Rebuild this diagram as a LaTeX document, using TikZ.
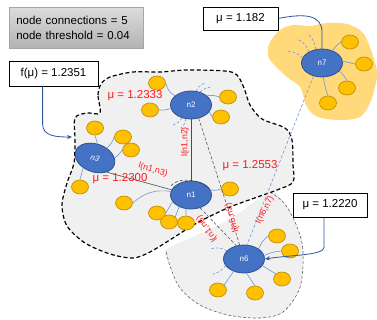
\documentclass[tikz,border=0pt]{standalone}
\usepackage{fontspec}
\setmainfont{Liberation Sans}
\usetikzlibrary{shapes.geometric,arrows.meta}
\definecolor{nodeblue}{HTML}{4472C4}
\definecolor{nodeedge}{HTML}{2F528F}
\definecolor{leaffill}{HTML}{FFC000}
\definecolor{leafedge}{HTML}{BF9000}
\definecolor{linkblue}{HTML}{7F9ED6}
\definecolor{blobgray}{HTML}{F0F0F0}
\definecolor{blobyellow}{HTML}{FFD97A}
\definecolor{arrowblue}{HTML}{2F5597}
\definecolor{redtxt}{HTML}{FF1A1A}
\begin{document}
\begin{tikzpicture}[x=1pt,y=-1pt,
  gnode/.style={ellipse,draw=nodeedge,fill=nodeblue,line width=0.8pt,minimum width=41pt,minimum height=28pt,inner sep=0pt,text=white,font=\fontsize{8}{9}\selectfont},
  leaf/.style={ellipse,draw=leafedge,fill=leaffill,line width=0.7pt,minimum width=17pt,minimum height=14pt,inner sep=0pt},
  link/.style={draw=linkblue,line width=0.7pt},
  partial/.style={draw=linkblue,line width=0.7pt,dash pattern=on 2.5pt off 2pt},
  solidedge/.style={draw=black!70,line width=0.6pt},
  dashedge/.style={draw=black!65,line width=0.6pt,dash pattern=on 3pt off 2pt},
  bluedash/.style={draw=linkblue,line width=0.7pt,dash pattern=on 3pt off 2pt},
  mulabel/.style={text=redtxt,font=\fontsize{11.5}{13}\selectfont,inner sep=0pt},
  elabel/.style={text=redtxt,font=\fontsize{8.8}{10}\selectfont,inner sep=0pt},
  valbox/.style={draw=black,line width=0.8pt,fill=white,font=\fontsize{11.5}{13}\selectfont,inner sep=0pt},
  infobox/.style={draw=black!35,line width=0.6pt,top color=black!14,bottom color=black!30,font=\fontsize{11.5}{15}\selectfont,align=left,text width=120pt,inner xsep=7pt,minimum height=41pt},
  conn/.style={draw=arrowblue,line width=0.8pt},
  tip/.style={-{Stealth[length=5pt,width=4pt]}},
]
\useasboundingbox (0,0) rectangle (377,320);

% ---- blobs ----
\fill[blobgray] plot[smooth cycle,tension=0.55] coordinates {(270,192) (284,203) (295,222) (302,243) (303,265) (299,290) (283,312) (260,318) (228,315) (200,305) (180,288) (170,266) (166,250) (197,235) (232,218)};
\draw[black!60,line width=0.6pt,dash pattern=on 3pt off 2pt] plot[smooth,tension=0.55] coordinates {(270,192) (284,203) (295,222) (302,243) (303,265) (299,290) (283,312) (260,318) (228,315) (200,305) (180,288) (170,266) (166,250)};

\filldraw[fill=blobgray,draw=black,line width=1.2pt,dash pattern=on 4pt off 2.5pt] plot[smooth cycle,tension=0.5] coordinates {(100,113) (98,95) (101,84) (110,77) (133,72) (160,72) (187,70) (225,71) (237,75) (244,88) (250,105) (262,119) (285,128) (292,140) (293,165) (293,182) (277,190) (230,207) (197,223) (173,238) (150,252) (133,258) (110,254) (85,243) (67,226) (62,205) (67,183) (74,163) (75,140) (75,118) (87,113)};

\fill[blobyellow] plot[smooth cycle,tension=0.55] coordinates {(280,30) (293,25) (310,26) (327,23) (347,24) (363,33) (372,53) (377,72) (375,87) (370,103) (360,117) (340,120) (318,117) (307,107) (300,87) (287,77) (270,60) (268,50) (270,42)};

% ---- boxes ----
\node (info) [infobox,anchor=north west] at (9,7) {node connections = 5\\node threshold = 0.04};
\node (fbox) [valbox,minimum width=89pt,minimum height=25pt] at (53.5,73.5) {f(μ) = 1.2351};
\node (m7) [valbox,minimum width=75pt,minimum height=23pt] at (240.5,18.5) {μ = 1.182};
\node (m6) [valbox,minimum width=74pt,minimum height=24pt] at (330,205) {μ = 1.2220};

% ---- graph nodes ----
\node (n2) [gnode] at (191,105) {n2};
\node (n3) [gnode,rotate=-20] at (95,158) {\itshape n3};
\node (n1) [gnode] at (191,195) {n1};
\node (n6) [gnode] at (244,259) {n6};
\node (n7) [gnode] at (322,63) {n7};

% ---- leaves ----
\node (l21) [leaf] at (157,83) {};
\node (l22) [leaf] at (150,110) {};
\node (l23) [leaf] at (228,97) {};
\node (l24) [leaf] at (221,117) {};
\node (l31) [leaf] at (95,128) {};
\node (l32) [leaf] at (123,137) {};
\node (l33) [leaf] at (131,150) {};
\node (l34) [leaf] at (80,187) {};
\node (l11) [leaf] at (230,189) {};
\node (l12) [leaf] at (124,203) {};
\node (l13) [leaf] at (157,213) {};
\node (l14) [leaf] at (169,222) {};
\node (l15) [leaf] at (186,223) {};
\node (l61) [leaf] at (277,236) {};
\node (l62) [leaf] at (290,251) {};
\node (l63) [leaf] at (282,279) {};
\node (l64) [leaf] at (255,293) {};
\node (l65) [leaf] at (218,290) {};
\node (l71) [leaf] at (350,42) {};
\node (l72) [leaf] at (364,64) {};
\node (l73) [leaf] at (347,88) {};
\node (l74) [leaf] at (328,103) {};

% ---- leaf links ----
\draw[link] (n2.150) to[bend left=25] (l21.east);
\draw[link] (n2.190) to[bend left=10] (l22.east);
\draw[link] (n2.30) to[bend left=15] (l23.west);
\draw[link] (n2.-20) to[bend right=10] (l24.west);
\draw[link] (n3.100) to (l31.south);
\draw[link] (n3.60) to[bend right=15] (l32.west);
\draw[link] (n3.20) to[bend right=10] (l33.west);
\draw[link] (n3.240) to (l34.north);
\draw[link] (n1.15) to[bend right=15] (l11.west);
\draw[link] (n1.170) to[bend right=25] (l12.east);
\draw[link] (n1.200) to (l13.east);
\draw[link] (n1.225) to (l14.north east);
\draw[link] (n1.250) to (l15.north);
\draw[link] (n6.35) to[bend left=15] (l61.west);
\draw[link] (n6.10) to[bend left=10] (l62.west);
\draw[link] (n6.-20) to (l63.north west);
\draw[link] (n6.-80) to (l64.north);
\draw[link] (n6.-130) to (l65.north east);
\draw[link] (n7.50) to[bend left=10] (l71.west);
\draw[link] (n7.5) to (l72.west);
\draw[link] (n7.-25) to[bend left=10] (l73.north);
\draw[link] (n7.-85) to[bend right=5] (l74.north);

% ---- partial (dashed) links ----
\draw[partial] (n2.70) to[bend left=20] ++(9,-8);
\draw[partial] (n2.55) to[bend left=20] ++(12,-5);
\draw[partial] (n2.235) to[bend left=20] ++(-9,7);
\draw[partial] (n2.250) to[bend left=20] ++(-5,9);
\draw[partial] (n7.165) to[bend right=25] ++(-17,-6);
\draw[partial] (n7.140) to[bend right=25] ++(-12,-13);
\draw[partial] (n7.115) to[bend right=20] ++(-8,-16);
\draw[partial] (n6.155) to[bend right=25] ++(-16,-2);
\draw[partial] (n6.200) to[bend left=20] ++(-15,9);
\draw[black!70,line width=0.6pt,dash pattern=on 3pt off 2pt] (n1.north) ++(-20,5) .. controls +(8,-9) and +(-8,-8) .. ++(36,2);

% ---- edges between graph nodes ----
\draw[solidedge] (n2.south) -- (n1.north);
\draw[solidedge] (n3.-30) -- (n1.165);
\draw[dashedge] (n2.-60) -- (n6.107);
\draw[dashedge] (n1.-55) -- (n6.120);
\draw[bluedash] (n7.237) -- (n6.78);

% ---- value connectors ----
\coordinate (fa) at (72,137);
\draw[conn,tip] ([xshift=34pt]fbox.south west) -- ++(0,38) .. controls +(0,12) and +(-15,0) .. (fa);
\draw[conn] (m7.east) .. controls (305,13) and (322,15) .. (322,32) -- (n7.north);
\draw[conn,tip] ([xshift=-6pt]m6.south) -- ++(0,30) .. controls +(0,8) and +(25,-4) .. (n6.east);

% ---- labels ----
\node (mu2) [mulabel] at (135,96) {μ = 1.2333};
\node (mu3) [mulabel] at (120,179) {μ = 1.2300};
\node (mu1) [mulabel] at (250,166) {μ = 1.2553};
\node (e12) [elabel,rotate=90] at (185,142) {l(n1,n2)};
\node (e13) [elabel,rotate=-17] at (153,170) {l(n1,n3)};
\node (e16) [elabel,rotate=125] at (207,229) {l(n1,n6)};
\node (e26) [elabel,rotate=106] at (232,218) {l(n6,n2)};
\node (e76) [elabel,rotate=63] at (265,210) {l(n6,n7)};
\end{tikzpicture}
\end{document}
